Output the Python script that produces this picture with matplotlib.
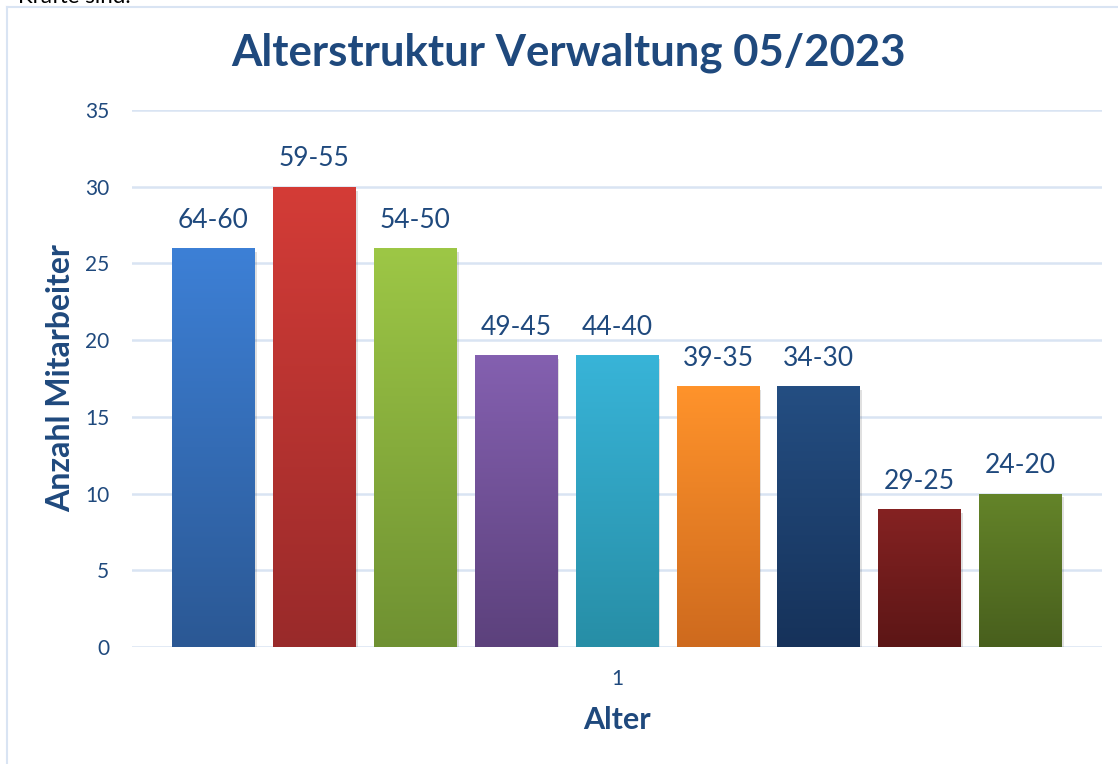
import matplotlib
matplotlib.use('Agg')
import matplotlib.pyplot as plt
import numpy as np
from matplotlib.colors import LinearSegmentedColormap
from matplotlib.patches import Rectangle

# data
age_groups = ['64-60', '59-55', '54-50', '49-45', '44-40', '39-35', '34-30', '29-25', '24-20']
counts = [26, 30, 26, 19, 19, 17, 17, 9, 10]
top_colors = ['#3D80D6', '#D43C37', '#9DC746', '#8460B0', '#38B4D8', '#FF932B', '#244E82', '#852222', '#648429']
bottom_colors = ['#2B5894', '#992A2A', '#6F9132', '#5C417C', '#278EA6', '#CE6A1E', '#16325A', '#5C1616', '#485F1D']
y_ticks = [0, 5, 10, 15, 20, 25, 30, 35]

TXT = '#1F497D'
GRID = '#D9E4F3'
plt.rcParams['font.family'] = ['Lato', 'DejaVu Sans']

W, H = 1118, 764
fig = plt.figure(figsize=(W / 100, H / 100), dpi=100)
ax = fig.add_axes([132 / W, 1 - 647 / H, (1102 - 132) / W, (647 - 110) / H])

x = np.arange(len(counts))
bars = ax.bar(x, counts, width=0.82, color='none', zorder=3)
grad = np.linspace(1, 0, 256).reshape(-1, 1)
for b, n, c0, c1, lab in zip(bars, counts, top_colors, bottom_colors, age_groups):
    bx, bw = b.get_x(), b.get_width()
    # soft shadow
    ax.add_patch(Rectangle((bx + 0.02, -0.25), bw, n, color='#000000', alpha=0.12, zorder=2, lw=0))
    cmap = LinearSegmentedColormap.from_list('g', [c1, c0])
    im = ax.imshow(grad, extent=(bx, bx + bw, 0, n), aspect='auto', cmap=cmap,
                   vmin=0, vmax=1, zorder=3)
    im.set_clip_path(b)
    ax.text(b.get_x() + bw / 2, n + 1.0, lab, ha='center', va='bottom',
            fontsize=19, color=TXT)

ax.set_xlim(-0.807, len(counts) - 1 + 0.807)
ax.set_ylim(0, 35)
ax.set_yticks(y_ticks)
ax.set_xticks([(len(counts) - 1) / 2])
ax.set_xticklabels(['1'])
ax.tick_params(length=0, labelsize=15, colors=TXT)
ax.tick_params(axis='y', pad=16.5)
ax.tick_params(axis='x', pad=16)
for s in ax.spines.values():
    s.set_visible(False)
ax.grid(axis='y', color=GRID, lw=1.8, zorder=0)
ax.set_axisbelow(True)

ax.set_ylabel('Anzahl Mitarbeiter', fontsize=23, fontweight='bold', color=TXT, labelpad=7)
ax.set_xlabel('Alter', fontsize=22, fontweight='bold', color=TXT, labelpad=12)
fig.text(568 / W, 1 - 53 / H, 'Alterstruktur Verwaltung 05/2023', ha='center', va='center',
         fontsize=31.5, fontweight='bold', color=TXT)

# chart frame (cropped screenshot)
fig.add_artist(plt.Line2D([7 / W, 7 / W], [0, 1 - 7 / H], color=GRID, lw=1.5))
fig.add_artist(plt.Line2D([7 / W, 1], [1 - 7 / H, 1 - 7 / H], color=GRID, lw=1.5))
fig.text(18 / W, 1 - 3 / H, 'Kräfte sind.', ha='left', va='baseline', fontsize=16, color='black')

fig.savefig('out.png', dpi=100)
